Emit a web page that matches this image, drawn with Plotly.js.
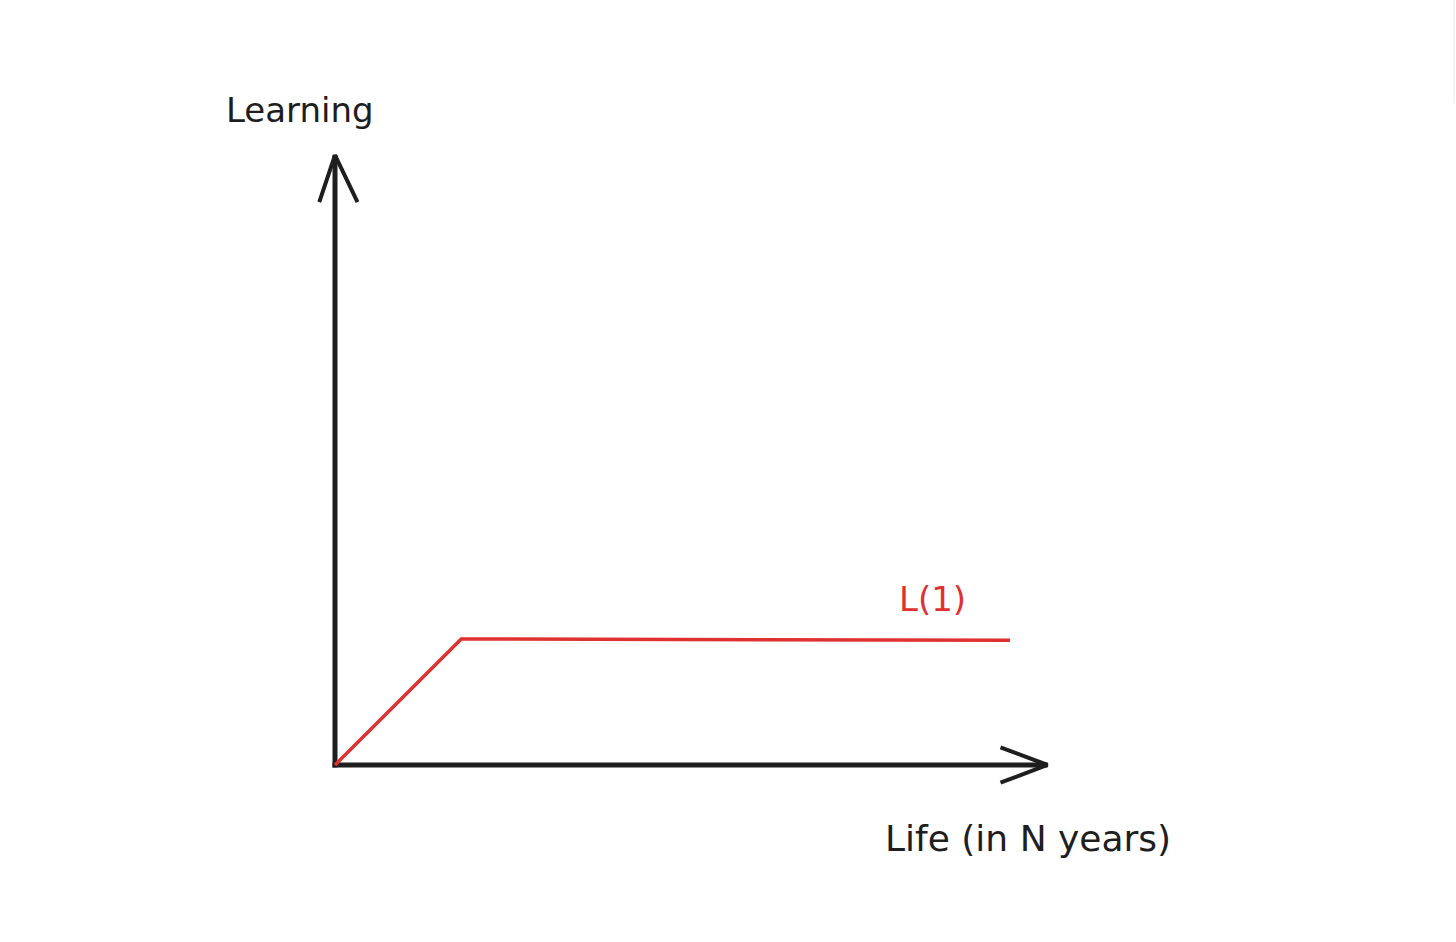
<!DOCTYPE html>
<html>
<head>
<meta charset="utf-8">
<script src="https://cdn.plot.ly/plotly-3.0.1.min.js"></script>
<style>html,body{margin:0;padding:0;background:#fff;}#chart{width:1456px;height:942px;}</style>
</head>
<body>
<div id="chart"></div>
<script>
// Data: learning over life (single curve L(1))
const lifeYears = [0, 1.01, 5.4];
const learning = [0, 1, 0.99];
const seriesName = "L(1)";
const xAxisTitle = "Life (in N years)";
const yAxisTitle = "Learning";
// Extent of hand-drawn axes (in data units)
const xAxisEnd = 5.70;
const yAxisEnd = 4.84;

const ink = "#1e1e1e";
const red = "#e03131";
const font = "'DejaVu Sans', sans-serif";

// arrow wing sizes (data units)
const xWingBack = 0.376, xWingSide = 0.14;
const yWingBack = 0.373, yWingSide = 0.12;

const traces = [
  // x axis line
  {x: [-0.02, xAxisEnd], y: [0, 0], mode: "lines", line: {color: ink, width: 5}, hoverinfo: "skip"},
  // x arrow head
  {x: [xAxisEnd - xWingBack, xAxisEnd, xAxisEnd - xWingBack], y: [xWingSide, 0, -xWingSide],
   mode: "lines", line: {color: ink, width: 4}, hoverinfo: "skip"},
  // y axis line
  {x: [0, 0], y: [-0.02, yAxisEnd], mode: "lines", line: {color: ink, width: 5}, hoverinfo: "skip"},
  // y arrow head
  {x: [-yWingSide * 1.05, 0, yWingSide * 1.5], y: [yAxisEnd - yWingBack, yAxisEnd, yAxisEnd - yWingBack],
   mode: "lines", line: {color: ink, width: 4}, hoverinfo: "skip"},
  // learning curve
  {x: lifeYears, y: learning, name: seriesName, mode: "lines",
   line: {color: red, width: 3.5}, hoverinfo: "skip"}
];

const layout = {
  width: 1456, height: 942,
  margin: {l: 0, r: 0, t: 0, b: 0},
  paper_bgcolor: "#ffffff", plot_bgcolor: "#ffffff",
  showlegend: false,
  xaxis: {range: [-2.68, 8.968], visible: false, fixedrange: true},
  yaxis: {range: [-1.405, 6.071], visible: false, fixedrange: true},
  annotations: [
    {x: -0.28, y: 5.2, text: yAxisTitle, showarrow: false,
     font: {family: font, size: 34, color: ink}},
    {x: 4.776, y: 1.32, text: seriesName, showarrow: false,
     font: {family: font, size: 34, color: red}},
    {x: 5.544, y: -0.58, text: xAxisTitle, showarrow: false,
     font: {family: font, size: 36, color: ink}}
  ],
  shapes: [
    {type: "line", xref: "paper", yref: "paper", x0: 0.9986, x1: 0.9986, y0: 1, y1: 0.89,
     line: {color: "#eee6e6", width: 1}}
  ]
};

Plotly.newPlot("chart", traces, layout, {displayModeBar: false, staticPlot: true});
</script>
</body>
</html>
